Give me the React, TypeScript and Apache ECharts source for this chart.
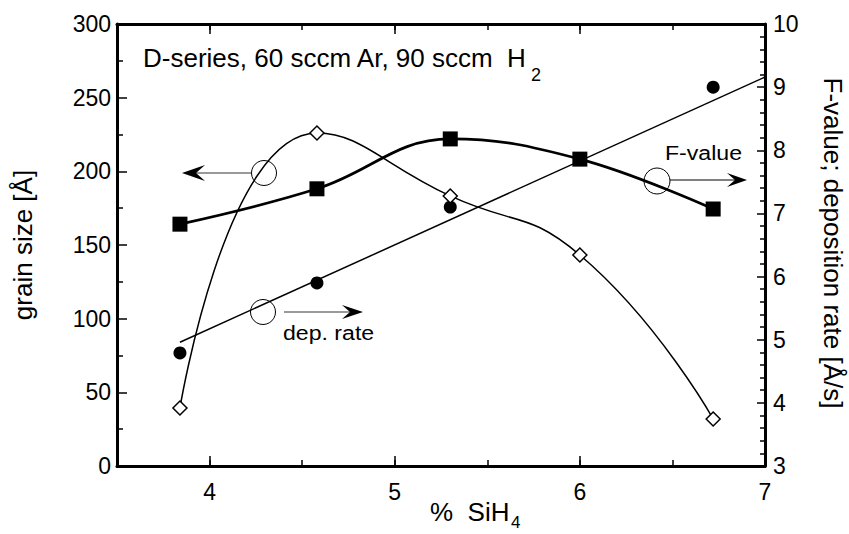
import React, { useEffect, useRef } from "react";
import * as echarts from "echarts";

// ---- data ----
const xValues = [3.84, 4.58, 5.3, 6.0, 6.72]; // % SiH4
const grainSize = [39.4, 226, 183.3, 143.2, 31.9]; // grain size [Å] (left axis, diamonds)
const fValue = [6.83, 7.39, 8.18, 7.86, 7.07]; // F-value (right axis, squares)
const depRate = [4.79, 5.9, 7.1, 7.86, 9.0]; // deposition rate [Å/s] (right axis, dots)
const depRateFitX = [3.84, 7.0];
const depRateFitY = [4.96, 9.16];
const xTickCats = ["3.5", "4", "4.5", "5", "5.5", "6", "6.5", "7"];

const FONT = '"Liberation Sans", Arial, Helvetica, sans-serif';

export default function App() {
  const ref = useRef<HTMLDivElement>(null);

  useEffect(() => {
    if (!ref.current) return;
    const chart = echarts.init(ref.current, null, { renderer: "svg" });
    const axisLine = { show: true, onZero: false, lineStyle: { color: "#000", width: 3 } };
    const tickLine = { color: "#000", width: 1.5 };
    const pair = (xs: number[], ys: number[]) => xs.map((x, i) => [x, ys[i]]);

    const valueX = (position: string, labels: boolean) => ({
      type: "value",
      position,
      min: 3.5,
      max: 7,
      interval: 0.5,
      axisLine,
      axisTick: { show: true, inside: true, length: 6, lineStyle: tickLine },
      axisLabel: labels
        ? {
            show: true,
            formatter: (v: number) => (Number.isInteger(v) ? String(v) : ""),
            fontSize: 23,
            fontFamily: FONT,
            color: "#000",
            margin: 14,
          }
        : { show: false },
      splitLine: { show: false },
    });
    const catX = (position: string) => ({
      type: "category",
      position,
      data: xTickCats,
      boundaryGap: false,
      axisLine: { show: false },
      axisTick: {
        show: true,
        inside: true,
        length: 10,
        interval: (_i: number, v: string) => Number(v) % 1 === 0,
        lineStyle: tickLine,
      },
      axisLabel: { show: false },
      splitLine: { show: false },
    });

    const txt = (text: string, x: number, y: number, size: number, extra: any = {}, align = "left") => ({
      type: "text",
      x,
      y,
      ...extra,
      style: {
        text,
        font: `${size}px ${FONT}`,
        fill: "#000",
        align,
        verticalAlign: "middle",
        textAlign: align,
        textVerticalAlign: "middle",
      },
    });

    const option: any = {
      animation: false,
      backgroundColor: "#fff",
      grid: { left: 117, right: 84, top: 24, bottom: 68, containLabel: false },
      xAxis: [valueX("bottom", true), valueX("top", false), catX("bottom"), catX("top")],
      yAxis: [
        {
          type: "value",
          position: "left",
          min: 0,
          max: 300,
          interval: 50,
          axisLine,
          axisTick: { show: true, inside: true, length: 10, lineStyle: tickLine },
          minorTick: { show: true, splitNumber: 2, length: 6, lineStyle: tickLine },
          axisLabel: { fontSize: 23, fontFamily: FONT, color: "#000", margin: 6 },
          splitLine: { show: false },
          minorSplitLine: { show: false },
        },
        {
          type: "value",
          position: "right",
          min: 3,
          max: 10,
          interval: 1,
          axisLine,
          axisTick: { show: true, inside: true, length: 8, lineStyle: tickLine },
          minorTick: { show: true, splitNumber: 5, length: 5, lineStyle: tickLine },
          axisLabel: { fontSize: 23, fontFamily: FONT, color: "#000", margin: 8 },
          splitLine: { show: false },
          minorSplitLine: { show: false },
        },
      ],
      series: [
        {
          name: "dep. rate fit",
          type: "line",
          xAxisIndex: 0,
          yAxisIndex: 1,
          data: pair(depRateFitX, depRateFitY),
          showSymbol: false,
          symbol: "none",
          lineStyle: { color: "#000", width: 1.5 },
        },
        {
          name: "deposition rate",
          type: "scatter",
          xAxisIndex: 0,
          yAxisIndex: 1,
          data: pair(xValues, depRate),
          symbol: "circle",
          symbolSize: 13,
          itemStyle: { color: "#000", opacity: 1 },
        },
        {
          name: "grain size",
          type: "line",
          xAxisIndex: 0,
          yAxisIndex: 0,
          data: pair(xValues, grainSize),
          smooth: 0.5,
          symbol: "diamond",
          symbolSize: [14, 14],
          lineStyle: { color: "#000", width: 1.5 },
          itemStyle: { color: "#fff", borderColor: "#000", borderWidth: 1.5 },
        },
        {
          name: "F-value",
          type: "line",
          xAxisIndex: 0,
          yAxisIndex: 1,
          data: pair(xValues, fValue),
          smooth: 0.4,
          symbol: "rect",
          symbolSize: 15,
          lineStyle: { color: "#000", width: 2.7 },
          itemStyle: { color: "#000" },
        },
      ],
      graphic: [
        txt("D-series, 60 sccm Ar, 90 sccm  H", 143, 58, 26),
        txt("2", 531, 75, 18),
        // grain size arrow (left)
        { type: "line", shape: { x1: 196, y1: 173, x2: 252, y2: 173 }, style: { stroke: "#999", lineWidth: 2 } },
        { type: "polygon", shape: { points: [[182, 173], [205, 165], [196, 173], [205, 181]] }, style: { fill: "#000" } },
        { type: "circle", shape: { cx: 264, cy: 173, r: 12.5 }, style: { fill: "none", stroke: "#000", lineWidth: 1 } },
        // dep. rate arrow (right)
        { type: "circle", shape: { cx: 263, cy: 312, r: 12.5 }, style: { fill: "none", stroke: "#000", lineWidth: 1 } },
        { type: "line", shape: { x1: 284, y1: 312, x2: 352, y2: 312 }, style: { stroke: "#999", lineWidth: 2 } },
        { type: "polygon", shape: { points: [[363, 312], [342, 305], [350, 312], [342, 319]] }, style: { fill: "#000" } },
        txt("dep. rate", 283, 333, 21, { scaleX: 1.1 }),
        // F-value arrow (right)
        { type: "circle", shape: { cx: 657, cy: 181, r: 13 }, style: { fill: "none", stroke: "#000", lineWidth: 1 } },
        { type: "line", shape: { x1: 670, y1: 180, x2: 737, y2: 180 }, style: { stroke: "#000", lineWidth: 1 } },
        { type: "polygon", shape: { points: [[747, 180], [727, 173], [735, 180], [727, 187]] }, style: { fill: "#000" } },
        txt("F-value", 665, 153, 21, { scaleX: 1.1 }),
        // axis titles
        txt("%  SiH", 430, 512, 26),
        txt("4", 511, 522, 17),
        txt("grain size [Å]", 23, 245, 26, { rotation: Math.PI / 2 }, "center"),
        txt("F-value; deposition rate [Å/s]", 833, 243, 26, { rotation: -Math.PI / 2 }, "center"),
      ],
    };
    chart.setOption(option);
    return () => chart.dispose();
  }, []);

  return (
    <div
      ref={ref}
      style={{ position: "absolute", left: 0, top: 0, width: 849, height: 534, background: "#fff" }}
    />
  );
}
